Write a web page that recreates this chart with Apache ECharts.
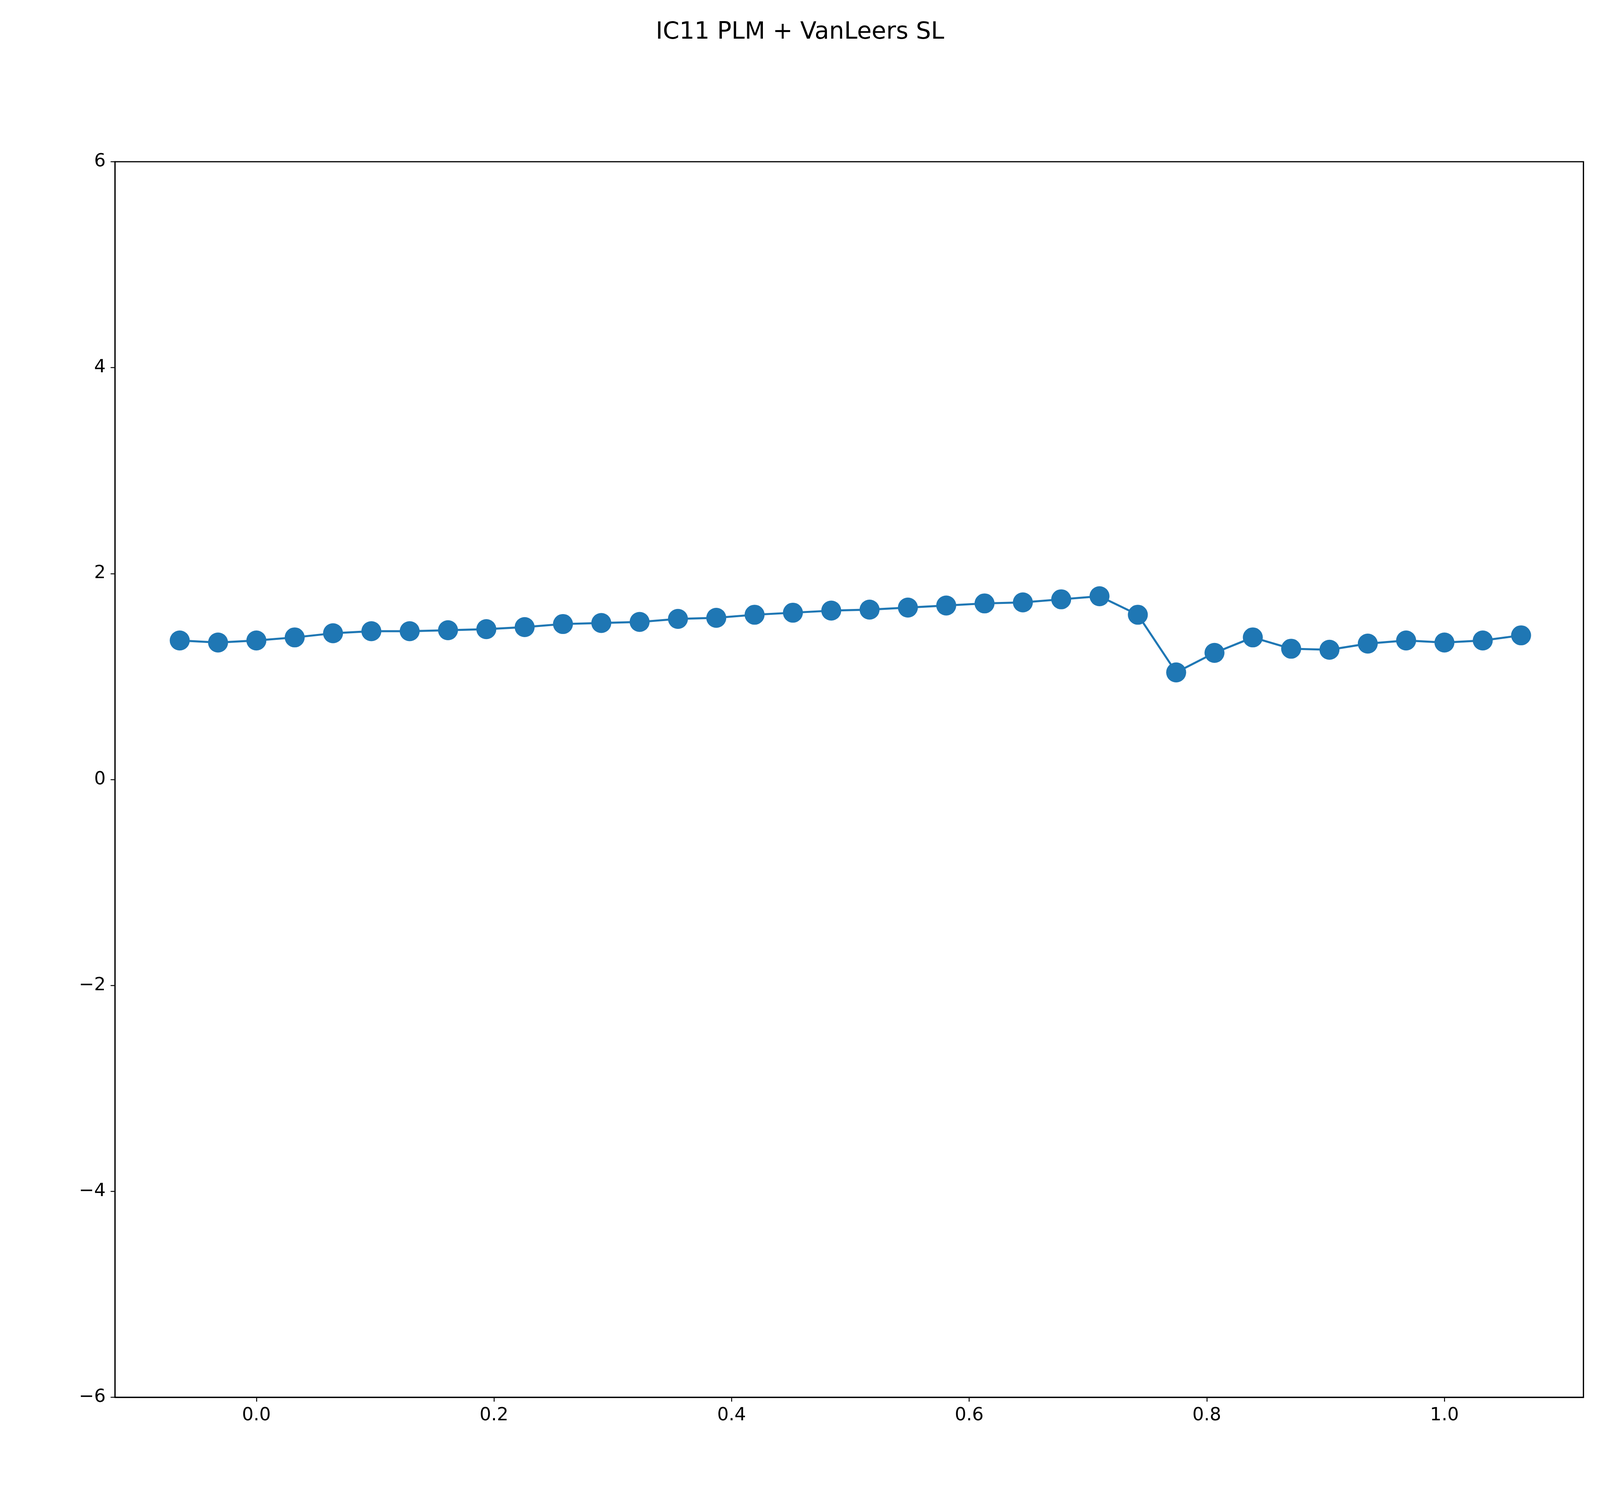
<!DOCTYPE html>
<html>
<head>
<meta charset="utf-8">
<script src="https://cdn.jsdelivr.net/npm/echarts@6/dist/echarts.min.js"></script>
</head>
<body style="margin:0;overflow:hidden">
<div id="chart" style="width:100vw;height:100vh"></div>
<script>
// x positions: k/31 for k = -2..33
var xIdx = [];
for (var k = -2; k <= 33; k++) xIdx.push(k / 31);
var yVals = [1.35, 1.33, 1.35, 1.38, 1.42, 1.44, 1.44, 1.45, 1.46, 1.48, 1.51, 1.52,
             1.53, 1.56, 1.57, 1.60, 1.62, 1.64, 1.65, 1.67, 1.69, 1.71, 1.72, 1.75,
             1.78, 1.60, 1.04, 1.23, 1.38, 1.27, 1.26, 1.32, 1.35, 1.33, 1.35, 1.40];
var xTicks = [0.0, 0.2, 0.4, 0.6, 0.8, 1.0];
var titleText = 'IC11 PLM + VanLeers SL';

var chart = echarts.init(document.getElementById('chart'));
var W = chart.getWidth(), H = chart.getHeight();
var s = W / 5120;
var font = 'DejaVu Sans';
var g = {left: 368 * s, right: 53 * s, top: 414 * H / 3840, bottom: 263 * H / 3840};
chart.setOption({
    animation: false,
    backgroundColor: '#fff',
    title: {
        text: titleText, left: 'center', top: 60 * s,
        textStyle: {fontFamily: font, fontWeight: 'normal', fontSize: 76 * s, color: '#000'}
    },
    grid: g,
    xAxis: {
        type: 'value', min: -0.119, max: 1.117,
        splitLine: {show: false},
        axisLine: {onZero: false, lineStyle: {color: '#000', width: 4 * s}},
        axisTick: {length: 14 * s, lineStyle: {color: '#000', width: 3 * s}, customValues: xTicks},
        axisLabel: {customValues: xTicks, fontFamily: font, fontSize: 58 * s, color: '#000', margin: 30 * s,
            formatter: function (v) { return v.toFixed(1); }}
    },
    yAxis: {
        type: 'value', min: -6, max: 6, interval: 2,
        splitLine: {show: false},
        axisLine: {show: true, onZero: false, lineStyle: {color: '#000', width: 4 * s}},
        axisTick: {show: true, length: 14 * s, lineStyle: {color: '#000', width: 3 * s}},
        axisLabel: {fontFamily: font, fontSize: 58 * s, color: '#000', margin: 30 * s,
            formatter: function (v) { return v < 0 ? '\u2212' + (-v) : '' + v; }}
    },
    series: [{
        type: 'line',
        data: xIdx.map(function (x, i) { return [x, yVals[i]]; }),
        symbol: 'circle', symbolSize: 64 * s,
        lineStyle: {color: '#1f77b4', width: 6.5 * s},
        itemStyle: {color: '#1f77b4'}
    }],
    graphic: [{
        type: 'rect', silent: true,
        shape: {x: g.left, y: g.top, width: W - g.left - g.right, height: H - g.top - g.bottom},
        style: {fill: null, stroke: '#000', lineWidth: 4 * s}
    }]
});
</script>
</body>
</html>
